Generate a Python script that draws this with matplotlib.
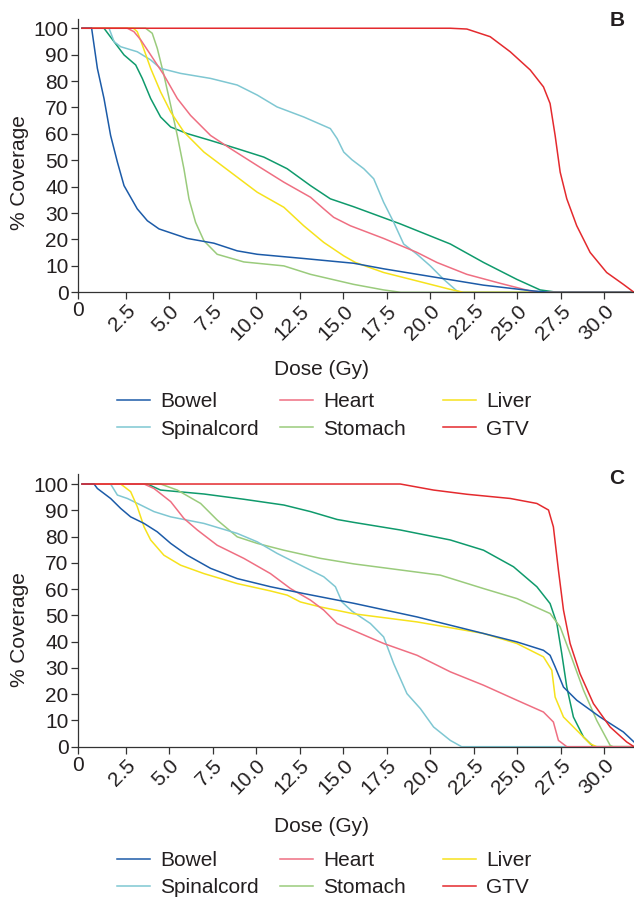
import numpy as np
import matplotlib.pyplot as plt

plt.rcParams['font.family'] = ['Liberation Sans', 'DejaVu Sans']

# dose (Gy) and % coverage
organs = ['Bowel', 'Heart', 'Liver', 'Spinalcord', 'Stomach', 'GTV', 'Other']

# ---- panel B ----
b_bowel_x = [0, 0.55, 0.88, 1.26, 1.64, 2.03, 2.41, 3.17, 3.75, 4.42, 6.04, 7.57, 8.91, 10.06, 12.73, 15.6, 17.32, 20.19, 23.06, 25.93, 26.9, 31.7]
b_bowel_y = [100, 100, 84.8, 73.4, 59.4, 49.3, 40.4, 31.6, 27.1, 24.0, 20.4, 18.6, 15.7, 14.4, 12.8, 11.0, 8.9, 5.8, 2.7, 0.5, 0, 0]
b_heart_x = [0, 2.6, 2.98, 3.37, 3.94, 4.70, 5.47, 6.23, 7.38, 8.53, 10.06, 11.59, 13.12, 13.88, 14.45, 15.41, 17.32, 19.24, 20.38, 22.10, 24.02, 25.74, 26.5, 31.7]
b_heart_y = [100, 100, 98.7, 95.6, 89.9, 82.3, 73.4, 67.0, 59.4, 54.4, 48.0, 41.7, 36.0, 31.6, 28.4, 25.2, 20.4, 15.1, 11.3, 6.8, 3.4, 0.5, 0, 0]
b_liver_x = [0, 2.95, 3.17, 3.46, 3.94, 4.51, 5.09, 5.85, 7.0, 8.53, 10.06, 11.59, 12.73, 13.88, 15.03, 15.7, 17.32, 19.24, 21.15, 21.9, 31.7]
b_liver_y = [100, 100, 98.7, 93.7, 84.8, 75.9, 68.3, 60.7, 53.1, 45.5, 37.9, 32.2, 25.2, 18.9, 13.8, 11.3, 7.5, 4.3, 1.1, 0, 0]
b_spinal_x = [0, 1.55, 1.84, 2.22, 3.17, 3.94, 4.51, 5.66, 7.38, 8.91, 10.06, 11.2, 12.73, 14.26, 14.65, 15.03, 15.5, 16.18, 16.75, 17.32, 17.9, 18.47, 19.24, 20.0, 20.77, 21.53, 21.8, 31.7]
b_spinal_y = [100, 100, 94.9, 93.0, 91.1, 88.0, 84.8, 82.9, 81.0, 78.5, 74.7, 70.2, 66.4, 62.0, 58.2, 53.1, 50.2, 46.8, 43.0, 34.1, 26.5, 18.3, 14.4, 10.0, 4.9, 0.5, 0, 0]
b_stomach_x = [0, 3.65, 4.03, 4.32, 4.70, 5.09, 5.47, 5.85, 6.14, 6.52, 7.0, 7.76, 9.29, 11.59, 13.12, 15.6, 17.32, 18.3, 31.7]
b_stomach_y = [100, 100, 98.1, 92.4, 82.3, 70.8, 59.4, 46.8, 35.4, 26.5, 19.5, 14.4, 11.5, 10.0, 6.8, 3.0, 0.9, 0, 0]
b_gtv_x = [0, 21.15, 22.1, 23.44, 24.59, 25.74, 26.5, 26.88, 27.17, 27.46, 27.84, 28.41, 29.18, 30.13, 31.09, 31.7]
b_gtv_y = [100, 100, 99.7, 96.8, 91.1, 84.2, 77.8, 71.5, 59.4, 45.5, 35.4, 25.2, 15.1, 7.5, 3.0, 0]
b_other_x = [0, 1.26, 1.84, 2.41, 3.08, 3.46, 3.94, 4.51, 5.09, 6.04, 7.38, 8.91, 10.44, 11.78, 13.12, 14.26, 15.6, 18.28, 21.15, 23.06, 24.97, 26.31, 27.3, 31.7]
b_other_y = [100, 100, 94.9, 89.9, 86.1, 81.0, 73.4, 66.4, 62.6, 60.1, 57.5, 54.4, 51.2, 46.8, 40.4, 35.4, 32.4, 25.9, 18.3, 11.3, 4.9, 0.9, 0, 0]

# ---- panel C ----
c_bowel_x = [0, 0.69, 0.88, 1.64, 2.22, 2.79, 3.56, 4.32, 5.09, 6.04, 7.38, 8.91, 10.82, 12.73, 15.6, 19.24, 23.06, 24.97, 26.5, 26.88, 27.17, 27.65, 28.41, 29.75, 31.09, 31.7]
c_bowel_y = [100, 100, 98.3, 94.5, 90.7, 87.5, 85.0, 81.8, 77.4, 72.9, 67.9, 64.0, 60.9, 58.3, 54.6, 49.4, 43.1, 39.9, 36.7, 34.8, 30.4, 22.7, 17.7, 11.3, 5.6, 1.8]
c_heart_x = [0, 3.56, 4.13, 5.09, 5.85, 6.62, 7.76, 9.29, 10.82, 11.97, 13.12, 13.88, 14.65, 15.6, 17.32, 19.24, 21.15, 23.06, 24.97, 26.5, 27.07, 27.36, 27.84, 31.7]
c_heart_y = [100, 100, 98.3, 93.3, 86.9, 82.5, 76.7, 71.7, 65.9, 60.2, 55.8, 52.0, 46.9, 44.2, 39.3, 34.8, 28.5, 23.4, 17.7, 13.2, 9.4, 2.4, 0, 0]
c_liver_x = [0, 2.22, 2.79, 3.17, 3.56, 3.94, 4.7, 5.66, 7.0, 8.91, 10.82, 11.78, 12.54, 13.69, 15.6, 19.24, 23.06, 24.97, 26.5, 26.98, 27.17, 27.65, 28.6, 29.18, 29.56, 31.7]
c_liver_y = [100, 100, 97.1, 91.4, 83.7, 78.7, 72.9, 69.1, 65.9, 62.1, 59.3, 57.7, 55.1, 53.2, 50.6, 47.5, 43.1, 39.3, 34.2, 29.1, 18.9, 11.3, 5.0, 1.1, 0, 0]
c_spinal_x = [0, 1.64, 2.03, 2.6, 3.37, 4.13, 5.09, 7.0, 8.91, 10.06, 11.2, 12.73, 13.88, 14.55, 14.93, 15.5, 16.56, 17.32, 17.9, 18.66, 19.43, 20.19, 21.15, 21.8, 31.7]
c_spinal_y = [100, 100, 95.8, 94.5, 92.0, 89.5, 87.5, 85.0, 81.2, 78.0, 73.6, 68.5, 64.7, 60.9, 55.1, 51.6, 46.9, 41.8, 31.6, 20.2, 14.5, 7.5, 2.4, 0, 0]
c_stomach_x = [0, 4.51, 5.47, 6.81, 7.76, 8.91, 10.06, 11.59, 13.69, 15.6, 20.58, 23.06, 24.97, 26.88, 27.46, 28.03, 28.8, 29.56, 30.33, 30.5, 31.7]
c_stomach_y = [100, 100, 97.7, 92.6, 86.3, 79.9, 77.4, 74.8, 71.7, 69.6, 65.3, 60.2, 56.4, 50.7, 45.6, 35.5, 21.5, 10.0, 0.5, 0, 0]
c_gtv_x = [0, 18.28, 20.19, 22.1, 24.59, 26.12, 26.79, 27.07, 27.36, 27.65, 28.03, 28.6, 29.37, 30.33, 31.28, 31.7]
c_gtv_y = [100, 100, 97.7, 96.1, 94.5, 92.6, 90.1, 83.7, 67.2, 52.0, 39.3, 27.8, 16.4, 7.5, 1.8, 0]
c_other_x = [0, 3.75, 4.51, 7.0, 9.29, 11.59, 13.12, 14.65, 15.6, 18.28, 21.15, 23.06, 24.78, 26.12, 26.88, 27.27, 27.55, 27.84, 28.22, 28.8, 29.37, 31.7]
c_other_y = [100, 100, 97.7, 96.2, 94.2, 92.0, 89.5, 86.5, 85.4, 82.5, 78.7, 74.8, 68.5, 60.9, 54.5, 46.9, 35.5, 22.7, 11.3, 3.7, 0, 0]

x_ticks = [2.5, 5.0, 7.5, 10.0, 12.5, 15.0, 17.5, 20.0, 22.5, 25.0, 27.5, 30.0]
y_ticks = [0, 10, 20, 30, 40, 50, 60, 70, 80, 90, 100]

colors = {'Bowel': '#1c5ba8', 'Heart': '#ef6f82', 'Liver': '#f6e21c',
          'Spinalcord': '#7fc7d2', 'Stomach': '#9acb7c', 'GTV': '#e42a2e',
          'Other': '#0f9a6c'}
draw_order = ['Other', 'Stomach', 'Spinalcord', 'Liver', 'Heart', 'Bowel', 'GTV']

panels = {
    'B': {'Bowel': (b_bowel_x, b_bowel_y), 'Heart': (b_heart_x, b_heart_y),
          'Liver': (b_liver_x, b_liver_y), 'Spinalcord': (b_spinal_x, b_spinal_y),
          'Stomach': (b_stomach_x, b_stomach_y), 'GTV': (b_gtv_x, b_gtv_y),
          'Other': (b_other_x, b_other_y)},
    'C': {'Bowel': (c_bowel_x, c_bowel_y), 'Heart': (c_heart_x, c_heart_y),
          'Liver': (c_liver_x, c_liver_y), 'Spinalcord': (c_spinal_x, c_spinal_y),
          'Stomach': (c_stomach_x, c_stomach_y), 'GTV': (c_gtv_x, c_gtv_y),
          'Other': (c_other_x, c_other_y)},
}

W, H = 634, 901
fig = plt.figure(figsize=(W / 100, H / 100), dpi=100)
txt = '#231f20'
spine_c = '#333333'
xmin, xmax = -0.25, 31.7

# axes boxes in pixels: left, top, right, bottom
boxes = {'B': (77.7, 19, 634, 292.3), 'C': (77.7, 474.3, 634, 746.7)}
ytops = {'B': 103.5, 'C': 103.7}
label_y = {'B': (369, 173, 415.5, 20), 'C': (826, 630, 874, 478)}
legend_cols = [(117, ['Bowel', 'Spinalcord']), (280, ['Heart', 'Stomach']),
               (443, ['Liver', 'GTV'])]

for name, data in panels.items():
    l, t, r, b = boxes[name]
    ax = fig.add_axes([l / W, 1 - b / H, (r - l) / W, (b - t) / H])
    handles = {}
    for org in draw_order:
        x, y = data[org]
        ln, = ax.plot(x, y, color=colors[org], lw=1.1, solid_joinstyle='round')
        handles[org] = ln
    ax.set_xlim(xmin, xmax)
    ax.set_ylim(0, ytops[name])
    ax.set_xticks([xmin] + x_ticks)
    ax.set_xticklabels(['0'] + [f'{v:.1f}' for v in x_ticks])
    ax.set_yticks(y_ticks)
    for i, lab in enumerate(ax.get_xticklabels()):
        if i == 0:
            lab.set_rotation(0)
            lab.set_ha('center')
        else:
            lab.set_rotation(45)
            lab.set_ha('right')
            lab.set_va('top')
            lab.set_rotation_mode('anchor')
    ax.tick_params(axis='both', direction='out', length=5, width=0.9,
                   colors=spine_c, labelcolor=txt, labelsize=15, pad=1.5)
    for s in ['top', 'right']:
        ax.spines[s].set_visible(False)
    for s in ['left', 'bottom']:
        ax.spines[s].set_color(spine_c)
        ax.spines[s].set_linewidth(0.9)

    xl_y, yl_y, leg_y, let_y = label_y[name]
    fig.text(322 / W, 1 - xl_y / H, 'Dose (Gy)', ha='center', va='center',
             fontsize=15, color=txt)
    fig.text(20 / W, 1 - yl_y / H, '% Coverage', ha='center', va='center',
             rotation=90, fontsize=15, color=txt)
    fig.text(617 / W, 1 - let_y / H, name, ha='center', va='center',
             fontsize=15, fontweight='bold', color=txt)

    for x0, labs in legend_cols:
        fig.legend([handles[o] for o in labs], labs, ncol=1,
                   loc='center left', bbox_to_anchor=(x0 / W, 1 - leg_y / H),
                   frameon=False, fontsize=15, handlelength=1.58,
                   handletextpad=0.48, labelspacing=0.4, borderpad=0,
                   borderaxespad=0, labelcolor=txt)

fig.savefig('out.png', dpi=100)
